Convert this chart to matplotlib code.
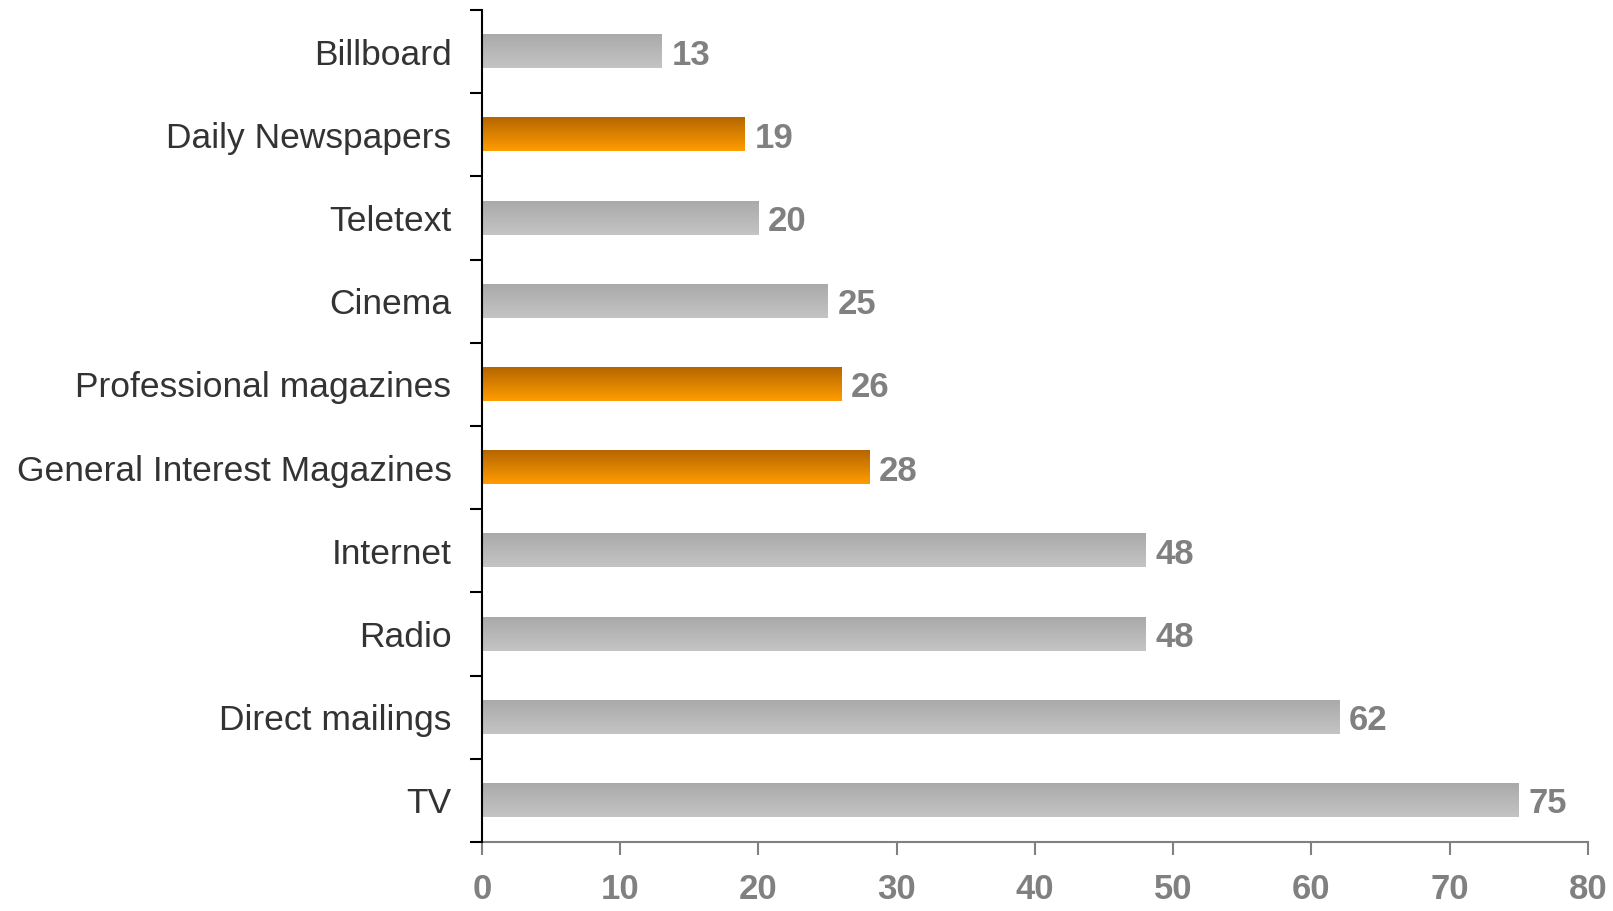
import numpy as np
import matplotlib
matplotlib.use("Agg")
import matplotlib.pyplot as plt
from matplotlib.colors import LinearSegmentedColormap

plt.rcParams['font.family'] = ['Liberation Sans', 'DejaVu Sans']

# media channels, bottom to top
media = ["TV", "Direct mailings", "Radio", "Internet", "General Interest Magazines",
         "Professional magazines", "Cinema", "Teletext", "Daily Newspapers", "Billboard"]
scores = [75, 62, 48, 48, 28, 26, 25, 20, 19, 13]
highlight = [False, False, False, False, True, True, False, False, True, False]

x_ticks = [0, 10, 20, 30, 40, 50, 60, 70, 80]

gray_cmap = LinearSegmentedColormap.from_list("gray_bar", ["#c4c4c4", "#aaaaaa"])
orange_cmap = LinearSegmentedColormap.from_list("orange_bar", ["#ff9c00", "#b56600"])

fig = plt.figure(figsize=(16.13, 9.11), dpi=100)
ax = fig.add_axes([0.2988, 0.0757, 0.6857, 0.9133])

bar_h = 0.4
grad = np.linspace(0, 1, 64).reshape(-1, 1)
ypos = np.arange(len(media))
for y, v, hl in zip(ypos, scores, highlight):
    cmap = orange_cmap if hl else gray_cmap
    ax.imshow(grad, cmap=cmap, aspect='auto', origin='lower',
              extent=[0, v, y - bar_h / 2, y + bar_h / 2], zorder=2)
    ax.text(v + 0.7, y, str(v), va='center_baseline', ha='left', fontsize=25,
            fontweight='bold', color='#808080')

ax.set_xlim(0, 80)
ax.set_ylim(-0.5, len(media) - 0.5)

ax.set_yticks(ypos)
ax.set_yticklabels(media, fontsize=25.5, color='#333333', va='center_baseline')
ax.set_yticks(np.arange(-0.5, len(media), 1.0), minor=True)
ax.tick_params(axis='y', which='major', length=0, pad=22)
ax.tick_params(axis='y', which='minor', length=9, width=1.5, color='black', direction='out')

ax.set_xticks(x_ticks)
ax.set_xticklabels([str(t) for t in x_ticks], fontsize=25, fontweight='bold', color='#808080')
ax.tick_params(axis='x', length=9, width=1.5, color='#808080', direction='out', pad=13)

for side in ('top', 'right'):
    ax.spines[side].set_visible(False)
ax.spines['left'].set_color('black')
ax.spines['left'].set_linewidth(1.5)
ax.spines['bottom'].set_color('#808080')
ax.spines['bottom'].set_linewidth(1.5)
ax.spines['left'].set_zorder(3)

fig.savefig("out.png", dpi=100)
